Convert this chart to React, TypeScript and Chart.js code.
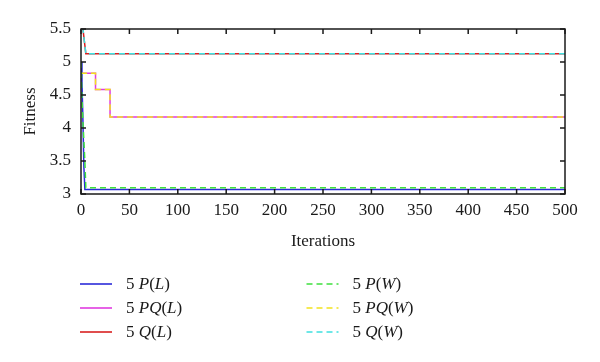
import React, { useEffect, useRef } from "react";
import { Chart, registerables } from "chart.js";

Chart.register(...registerables);

// ---- data ----
const xTicksMin = 0;
const xTicksMax = 500;
const xStep = 50;
const yMin = 3;
const yMax = 5.5;
const yStep = 0.5;

const pL_x = [0, 1, 2, 3, 4, 500];
const pL_y = [5.0, 4.7, 4.1, 3.4, 3.07, 3.07];
const pqL_x = [0, 15, 30, 500];
const pqL_y = [4.83, 4.585, 4.165, 4.165];
const qL_x = [0, 2, 5, 500];
const qL_y = [5.5, 5.5, 5.125, 5.125];
const pW_x = [0, 1, 2, 3, 4, 5, 500];
const pW_y = [5.0, 4.45, 4.1, 3.8, 3.5, 3.095, 3.095];
const pqW_x = [0, 15, 30, 500];
const pqW_y = [4.83, 4.585, 4.165, 4.165];
const qW_x = [0, 2, 5, 500];
const qW_y = [5.5, 5.5, 5.125, 5.125];

const seriesNames = ["P(L)", "PQ(L)", "Q(L)", "P(W)", "PQ(W)", "Q(W)"];
const seriesPrefix = "5 ";
const xTitle = "Iterations";
const yTitle = "Fitness";

const FONT = "'Liberation Serif', 'DejaVu Serif', serif";

function pts(xs: number[], ys: number[]) {
  return xs.map((x, i) => ({ x, y: ys[i] }));
}

const frameAndLegend = {
  id: "frameAndLegend",
  afterDraw(chart: any) {
    const ctx = chart.ctx;
    const { left, right, top, bottom } = chart.chartArea;
    const xs = chart.scales.x;
    const ys = chart.scales.y;
    ctx.save();
    ctx.strokeStyle = "#1a1a1a";
    ctx.lineWidth = 1.5;
    ctx.strokeRect(left, top, right - left, bottom - top);
    const tl = 5;
    ctx.beginPath();
    for (let v = xTicksMin; v <= xTicksMax; v += xStep) {
      const px = xs.getPixelForValue(v);
      ctx.moveTo(px, bottom);
      ctx.lineTo(px, bottom - tl);
      ctx.moveTo(px, top);
      ctx.lineTo(px, top + tl);
    }
    for (let v = yMin; v <= yMax + 1e-9; v += yStep) {
      const py = ys.getPixelForValue(v);
      ctx.moveTo(left, py);
      ctx.lineTo(left + tl, py);
      ctx.moveTo(right, py);
      ctx.lineTo(right - tl, py);
    }
    ctx.stroke();

    // legend
    const ds = chart.data.datasets;
    const colX = [80, 306.5];
    const rowY = [284, 308, 332];
    ctx.textBaseline = "middle";
    ds.forEach((d: any, i: number) => {
      const col = Math.floor(i / 3);
      const row = i % 3;
      const x0 = colX[col];
      const y0 = rowY[row];
      ctx.strokeStyle = d.borderColor;
      ctx.lineWidth = 1.6;
      ctx.setLineDash(d.borderDash || []);
      ctx.beginPath();
      ctx.moveTo(x0, y0);
      ctx.lineTo(x0 + 32, y0);
      ctx.stroke();
      ctx.setLineDash([]);
      let tx = x0 + 46;
      ctx.fillStyle = "#1a1a1a";
      const label: string = d.label;
      const parts: { t: string; it: boolean }[] = [];
      for (const ch of label) {
        const it = /[A-Za-z]/.test(ch);
        const last = parts[parts.length - 1];
        if (last && last.it === it) last.t += ch;
        else parts.push({ t: ch, it });
      }
      for (const p of parts) {
        ctx.font = (p.it ? "italic " : "") + "17px " + FONT;
        ctx.fillText(p.t, tx, y0 + 1);
        tx += ctx.measureText(p.t).width;
      }
    });
    ctx.restore();
  },
};

export default function App() {
  const ref = useRef<HTMLCanvasElement>(null);
  useEffect(() => {
    if (!ref.current) return;
    const mk = (
      name: string,
      data: { x: number; y: number }[],
      color: string,
      dashed: boolean,
      stepped: any = false
    ) => ({
      label: seriesPrefix + name,
      data,
      borderColor: color,
      backgroundColor: color,
      borderWidth: 1.5,
      borderDash: dashed ? [6, 4] : [],
      pointRadius: 0,
      fill: false,
      tension: 0,
      stepped,
      order: dashed ? 0 : 1,
    });
    const chart = new Chart(ref.current, {
      type: "line",
      data: {
        datasets: [
          mk(seriesNames[0], pts(pL_x, pL_y), "#2b2bd9", false),
          mk(seriesNames[1], pts(pqL_x, pqL_y), "#e03ce0", false, "before"),
          mk(seriesNames[2], pts(qL_x, qL_y), "#d92020", false),
          mk(seriesNames[3], pts(pW_x, pW_y), "#3ee03e", true),
          mk(seriesNames[4], pts(pqW_x, pqW_y), "#f2e21c", true, "before"),
          mk(seriesNames[5], pts(qW_x, qW_y), "#3ee0e0", true),
        ],
      },
      options: {
        animation: false,
        responsive: false,
        maintainAspectRatio: false,
        layout: { padding: { top: 29, right: 35, bottom: 108, left: 0 } },
        plugins: { legend: { display: false }, tooltip: { enabled: false } },
        scales: {
          x: {
            type: "linear",
            min: xTicksMin,
            max: xTicksMax,
            ticks: {
              stepSize: xStep,
              color: "#1a1a1a",
              font: { family: FONT, size: 17 },
              padding: 6,
              maxRotation: 0,
              autoSkip: false,
            },
            grid: { display: false, drawTicks: false },
            border: { display: false },
            title: {
              display: true,
              text: xTitle,
              color: "#1a1a1a",
              font: { family: FONT, size: 17 },
              padding: { top: 0, bottom: 2 },
            },
            afterFit: (s: any) => {
              s.height = 60;
            },
          },
          y: {
            type: "linear",
            min: yMin,
            max: yMax,
            ticks: {
              stepSize: yStep,
              color: "#1a1a1a",
              font: { family: FONT, size: 17 },
              padding: 10,
              callback: (v: any) => String(Number(v)),
            },
            grid: { display: false, drawTicks: false },
            border: { display: false },
            title: {
              display: true,
              text: yTitle,
              color: "#1a1a1a",
              font: { family: FONT, size: 17 },
              padding: { top: 20, bottom: 0 },
            },
            afterFit: (s: any) => {
              s.width = 81;
            },
          },
        },
      },
      plugins: [frameAndLegend],
    });
    return () => chart.destroy();
  }, []);
  return (
    <div style={{ position: "absolute", left: 0, top: 0, width: 600, height: 362, background: "#fff" }}>
      <canvas ref={ref} width={600} height={362} />
    </div>
  );
}
